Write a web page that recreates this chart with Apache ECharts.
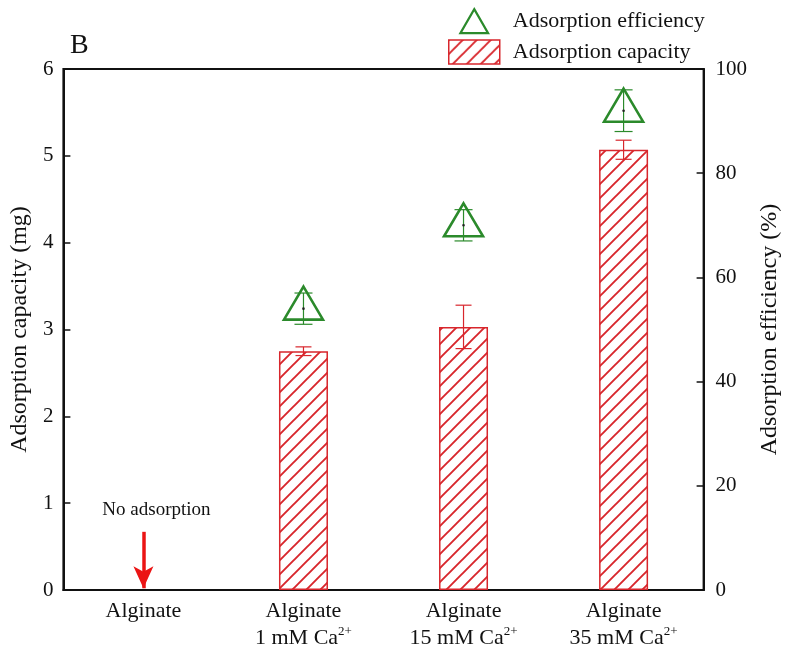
<!DOCTYPE html>
<html>
<head>
<meta charset="utf-8">
<script src="https://cdn.jsdelivr.net/npm/echarts@6/dist/echarts.min.js"></script>
<style>
  html, body { margin: 0; padding: 0; background: #fff; }
  #chart { width: 790px; height: 657px; }
</style>
</head>
<body>
<div id="chart"></div>
<script>
// data
const categories = ['Alginate', 'Alginate\n1 mM Ca{sup|2+}', 'Alginate\n15 mM Ca{sup|2+}', 'Alginate\n35 mM Ca{sup|2+}'];
const capacity = [null, 2.75, 3.03, 5.07];
const capacityErr = [null, 0.05, 0.25, 0.11];
const efficiency = [null, 54, 70, 92];
const efficiencyErr = [null, 3, 3, 4];
const capTicks = { min: 0, max: 6, interval: 1 };
const effTicks = { min: 0, max: 100, interval: 20 };

const RED = '#d8262c';
const GREEN = '#2b8a2b';
const FONT = '"Liberation Serif", "Times New Roman", serif';

function hatch(color) {
  const s = 14;
  const c = document.createElement('canvas');
  c.width = c.height = s;
  const ctx = c.getContext('2d');
  ctx.strokeStyle = color;
  ctx.lineWidth = 1.9;
  ctx.beginPath();
  ctx.moveTo(0, s); ctx.lineTo(s, 0);
  ctx.moveTo(-4, 4); ctx.lineTo(4, -4);
  ctx.moveTo(s - 4, s + 4); ctx.lineTo(s + 4, s - 4);
  ctx.stroke();
  return c;
}
const hatchFill = { image: hatch(RED), repeat: 'repeat' };

// [category index, value, error]
const capErrData = capacity.map((v, i) => v == null ? null : [i, v, capacityErr[i]]).filter(d => d);
const effData = efficiency.map((v, i) => v == null ? null : [i, v, efficiencyErr[i]]).filter(d => d);

function errorBar(api, color, cap) {
  const x = api.value(0), v = api.value(1), e = api.value(2);
  const hi = api.coord([x, v + e]);
  const lo = api.coord([x, v - e]);
  const style = { stroke: color, lineWidth: 1.2 };
  return [
    { type: 'line', shape: { x1: hi[0], y1: hi[1], x2: lo[0], y2: lo[1] }, style },
    { type: 'line', shape: { x1: hi[0] - cap, y1: hi[1], x2: hi[0] + cap, y2: hi[1] }, style },
    { type: 'line', shape: { x1: lo[0] - cap, y1: lo[1], x2: lo[0] + cap, y2: lo[1] }, style }
  ];
}

const chart = echarts.init(document.getElementById('chart'));

const option = {
  animation: false,
  textStyle: { fontFamily: FONT, color: '#111' },
  graphic: [
    { type: 'text', left: 70, top: 32, style: { text: 'B', font: '28px ' + FONT, fill: '#111' } }
  ],
  legend: {
    orient: 'vertical',
    left: 448,
    top: 8,
    padding: 0,
    itemWidth: 51,
    itemHeight: 24,
    itemGap: 5,
    textStyle: { fontFamily: FONT, fontSize: 22, lineHeight: 24, color: '#111', padding: [0, 0, 0, 8] },
    data: [
      {
        name: 'Adsorption efficiency',
        icon: 'path://M15 0 L30 26 L0 26 Z',
        itemStyle: { color: 'transparent', borderColor: GREEN, borderWidth: 2.2 }
      },
      {
        name: 'Adsorption capacity',
        icon: 'rect',
        itemStyle: { color: hatchFill, borderColor: RED, borderWidth: 1.5 }
      }
    ]
  },
  grid: {
    left: 63, right: 83, top: 69, bottom: 67,
    show: true, borderColor: '#111', borderWidth: 2, backgroundColor: 'transparent'
  },
  xAxis: {
    type: 'category',
    data: categories,
    axisLine: { lineStyle: { color: '#111', width: 2 } },
    axisTick: { show: false },
    axisLabel: {
      fontFamily: FONT, fontSize: 22, color: '#111', margin: 8, lineHeight: 27,
      interval: 0,
      rich: { sup: { fontFamily: FONT, fontSize: 13, verticalAlign: 'top', lineHeight: 27, padding: [0, 0, 14, 0] } }
    }
  },
  yAxis: [
    {
      type: 'value',
      min: capTicks.min, max: capTicks.max, interval: capTicks.interval,
      name: 'Adsorption capacity (mg)',
      nameLocation: 'middle', nameRotate: 90, nameGap: 30,
      nameTextStyle: { fontFamily: FONT, fontSize: 24, color: '#111' },
      axisLine: { show: true, lineStyle: { color: '#111', width: 2 } },
      axisTick: { show: true, inside: true, length: 7, lineStyle: { color: '#111', width: 1.5 } },
      axisLabel: { fontFamily: FONT, fontSize: 21, color: '#111', margin: 10 },
      splitLine: { show: false }
    },
    {
      type: 'value',
      position: 'right',
      min: effTicks.min, max: effTicks.max, interval: effTicks.interval,
      name: 'Adsorption efficiency (%)',
      nameLocation: 'middle', nameRotate: 90, nameGap: 54,
      nameTextStyle: { fontFamily: FONT, fontSize: 24, color: '#111' },
      axisLine: { show: true, lineStyle: { color: '#111', width: 2 } },
      axisTick: { show: true, inside: true, length: 7, lineStyle: { color: '#111', width: 1.5 } },
      axisLabel: { fontFamily: FONT, fontSize: 21, color: '#111', margin: 12 },
      splitLine: { show: false }
    }
  ],
  series: [
    {
      name: 'Adsorption capacity',
      type: 'bar',
      yAxisIndex: 0,
      barWidth: 49,
      data: capacity,
      itemStyle: { color: hatchFill, borderColor: RED, borderWidth: 1.5 },
      markLine: {
        silent: true,
        symbol: ['none', 'arrow'],
        symbolSize: [15, 22],
        label: { show: false },
        lineStyle: { color: 'rgb(235,20,20)', width: 3.5, type: 'solid' },
        data: [[{ coord: [0, 0.67] }, { coord: [0, 0.02] }]]
      },
      markPoint: {
        silent: true,
        symbol: 'circle',
        symbolSize: 0,
        label: {
          show: true, formatter: 'No adsorption', offset: [13, 0],
          fontFamily: FONT, fontSize: 19, color: '#111'
        },
        data: [{ coord: [0, 0.92] }]
      }
    },
    {
      name: 'capacity error',
      type: 'custom',
      yAxisIndex: 0,
      z: 5,
      data: capErrData,
      renderItem: (params, api) => ({ type: 'group', children: errorBar(api, RED, 8) })
    },
    {
      name: 'Adsorption efficiency',
      type: 'custom',
      yAxisIndex: 1,
      z: 6,
      data: effData,
      itemStyle: { color: GREEN },
      renderItem: (params, api) => {
        const p = api.coord([api.value(0), api.value(1)]);
        const w = 39, h = 33;
        const children = errorBar(api, GREEN, 9);
        children.push({
          type: 'polygon',
          shape: { points: [[p[0], p[1] - h * 2 / 3], [p[0] + w / 2, p[1] + h / 3], [p[0] - w / 2, p[1] + h / 3]] },
          style: { fill: 'none', stroke: GREEN, lineWidth: 2.6 }
        });
        children.push({
          type: 'circle', shape: { cx: p[0], cy: p[1], r: 1.3 }, style: { fill: '#222' }
        });
        return { type: 'group', children };
      }
    }
  ]
};

chart.setOption(option);
</script>
</body>
</html>
